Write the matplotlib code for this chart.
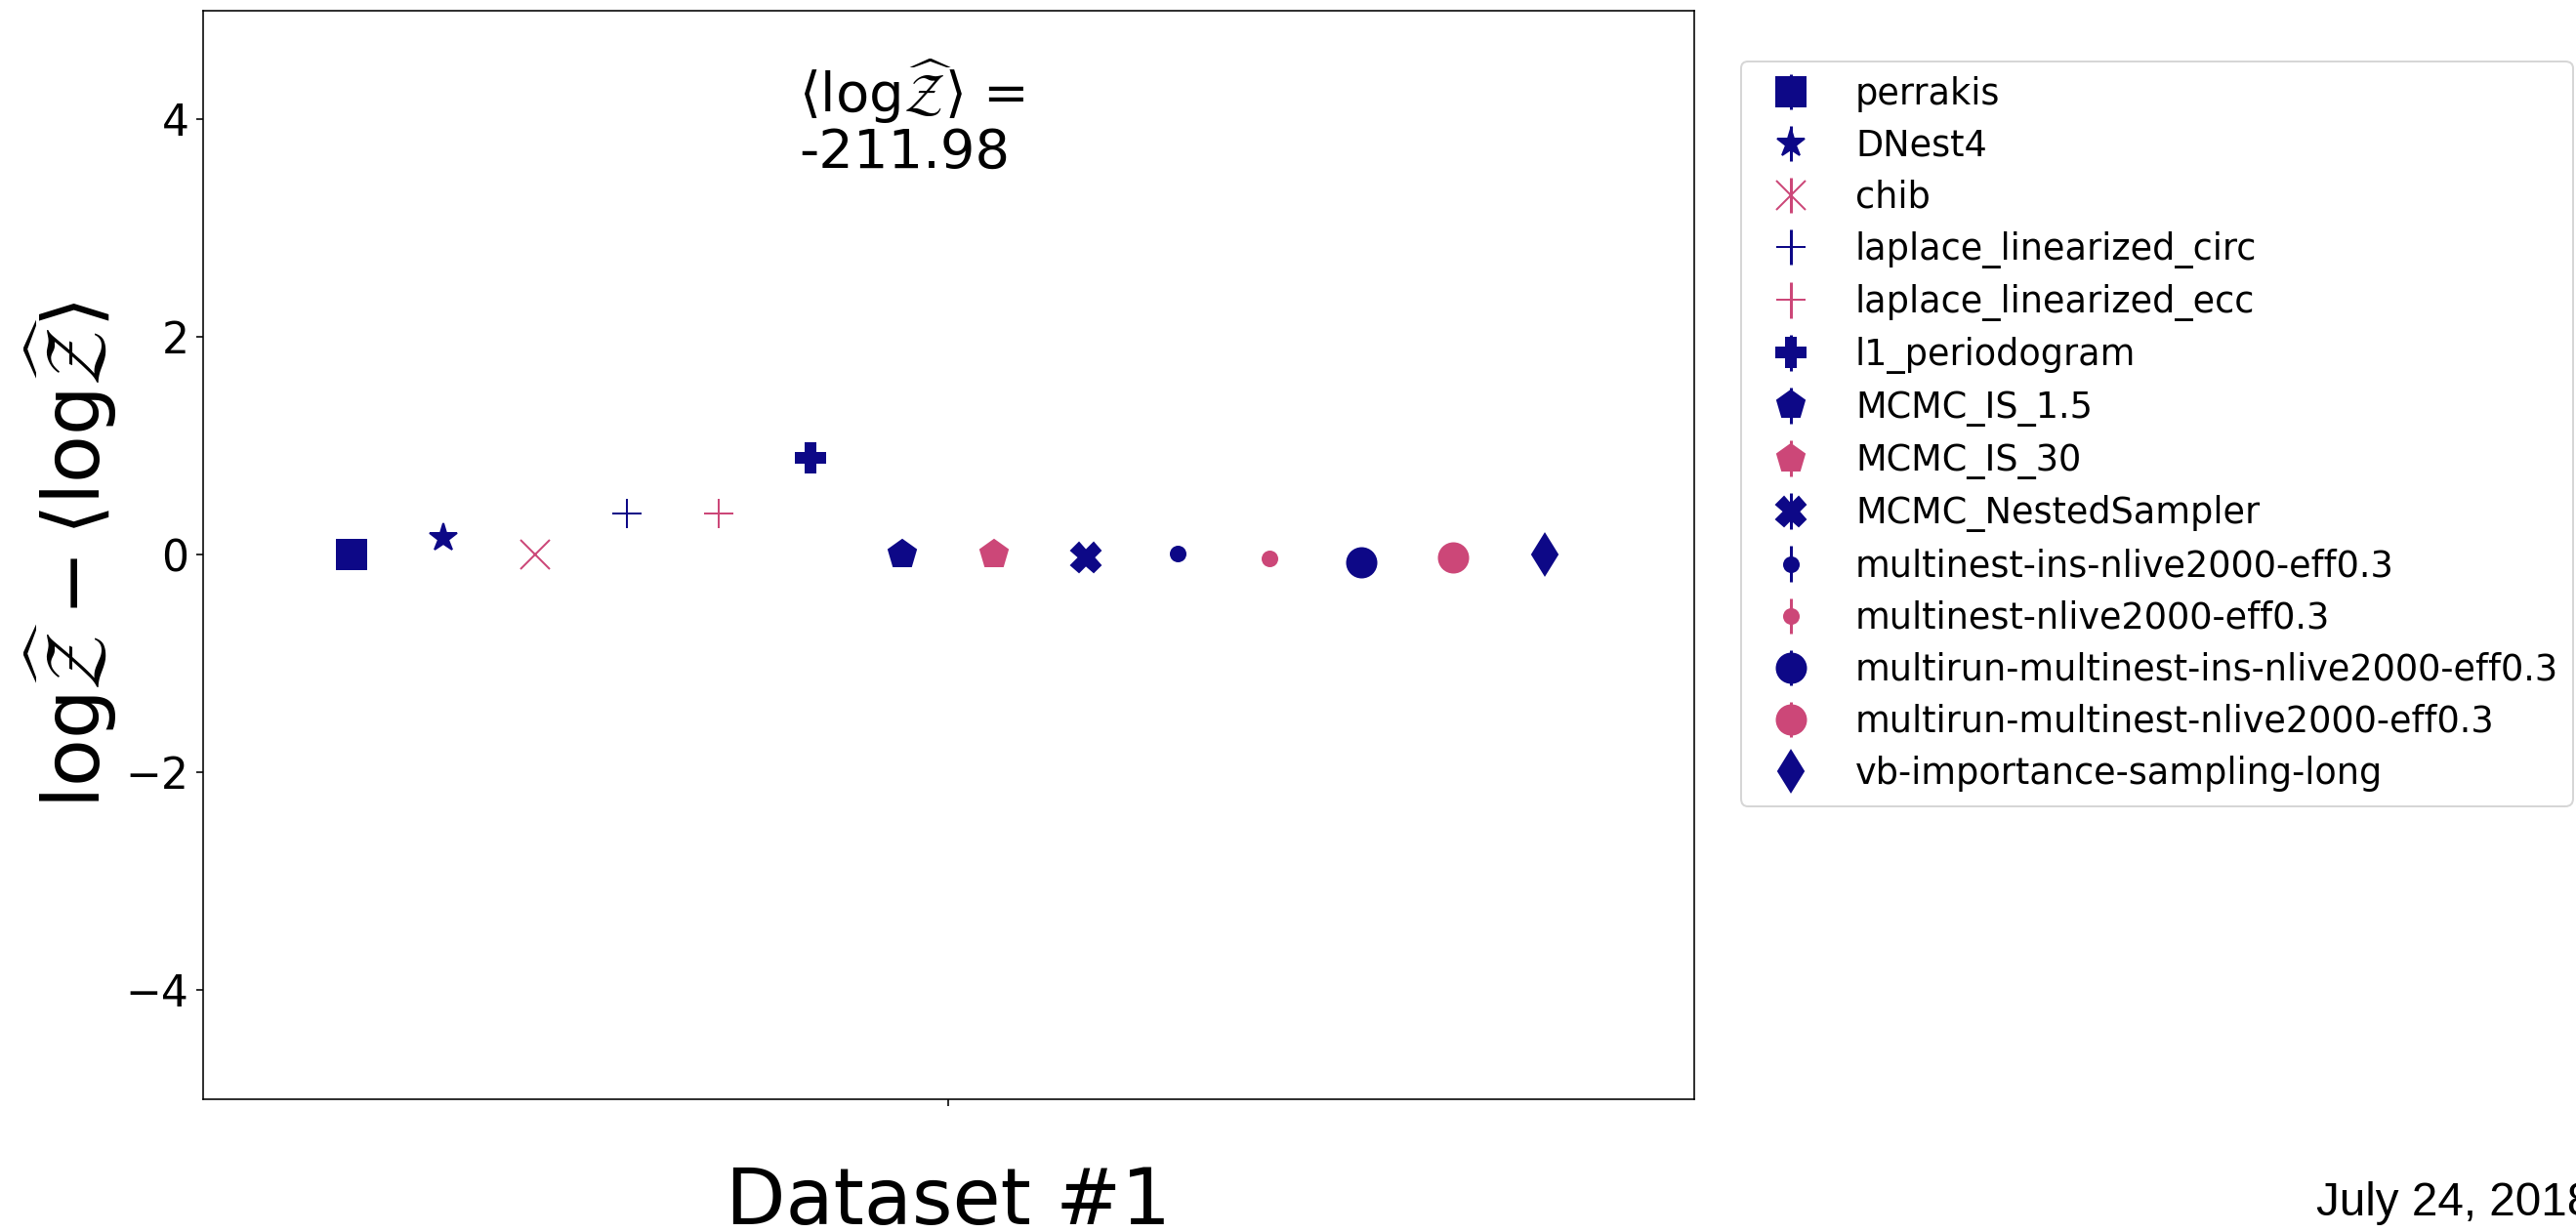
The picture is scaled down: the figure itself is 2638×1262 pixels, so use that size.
import numpy as np
import matplotlib
matplotlib.use('Agg')
import matplotlib.pyplot as plt

NAVY = '#0d0887'
PINK = '#cc4778'

# evidence estimates for dataset #1, relative to the mean
methods = ['perrakis', 'DNest4', 'chib', 'laplace_linearized_circ',
           'laplace_linearized_ecc', 'l1_periodogram', 'MCMC_IS_1.5',
           'MCMC_IS_30', 'MCMC_NestedSampler',
           'multinest-ins-nlive2000-eff0.3', 'multinest-nlive2000-eff0.3',
           'multirun-multinest-ins-nlive2000-eff0.3',
           'multirun-multinest-nlive2000-eff0.3',
           'vb-importance-sampling-long']
markers = ['s', '*', 'x', '+', '+', 'P', 'p', 'p', 'X', '.', '.', 'o', 'o', 'd']
colors = [NAVY, NAVY, PINK, NAVY, PINK, NAVY, NAVY, PINK, NAVY,
          NAVY, PINK, NAVY, PINK, NAVY]
delta_logz = [0.0, 0.16, 0.0, 0.38, 0.38, 0.89, 0.0, 0.0, -0.02,
              0.01, -0.03, -0.07, -0.02, 0.0]
delta_err = [0.0, 0.0, 0.0, 0.0, 0.0, 0.0, 0.0, 0.0, 0.0,
             0.0, 0.0, 0.0, 0.0, 0.0]
mean_logz = -211.98
dataset = 1

logz = r'\mathrm{log}\widehat{\mathcal{Z}}'

fig = plt.figure(figsize=(2638 / 144, 1262 / 144), dpi=144)
ax = fig.add_axes([0.0787, 0.1079, 0.5789, 0.8835])

# spread the methods around the dataset position
offsets = np.linspace(-0.4, 0.4, len(methods))
for i in range(len(methods)):
    ax.errorbar(dataset + offsets[i], delta_logz[i], yerr=delta_err[i],
                fmt=markers[i], color=colors[i], ms=15, label=methods[i])

ax.set_xlim(dataset - 0.5, dataset + 0.5)
ax.set_ylim(-5, 5)
ax.set_xticks([dataset])
ax.set_xticklabels(['Dataset #%d' % dataset], fontsize=40)
ax.set_yticks([-4, -2, 0, 2, 4])
ax.tick_params(axis='x', pad=30)
ax.tick_params(axis='y', labelsize=22)
ax.set_ylabel(r'$%s - \langle%s\rangle$' % (logz, logz), fontsize=40)

ax.text(dataset - 0.1, 4.58,
        r'$\langle%s\rangle$ =' % logz + '\n' + '%.2f' % mean_logz,
        fontsize=28, ha='left', va='top', linespacing=1.05)

ax.legend(loc='upper left', bbox_to_anchor=(0.6758, 0.9501),
          bbox_transform=fig.transFigure, borderaxespad=0, fontsize=18.3,
          labelspacing=0.44)

fig.text(2372 / 2638, 17 / 1262, 'July 24, 2018', fontsize=23.8,
         family='Liberation Sans', ha='left', va='baseline')

fig.savefig('out.png', dpi=144)
